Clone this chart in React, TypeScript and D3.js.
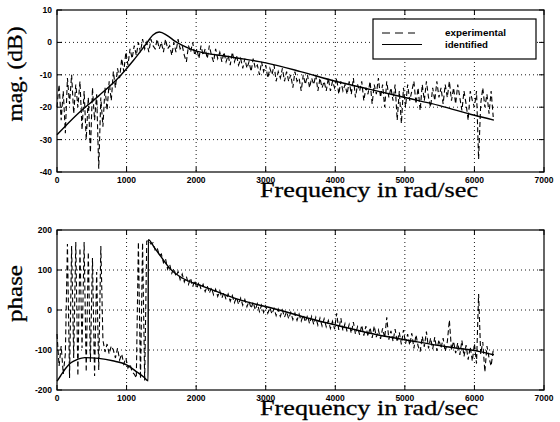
import React from "react";
import * as d3 from "d3";

// ---------------- data ----------------
const FREQ_STEP = 30; // experimental sampling grid, rad/sec

const magExp = [
  -20, -13, -24, -15, -28, -11, -19, -10, -22, -13,
  -20, -12, -27, -15, -30, -17, -34, -14, -24, -16,
  -39, -17, -26, -14, -21, -12, -18, -9, -14, -8,
  -11, -5, -9, -3, -7, -2, -5, -1, -4, 0,
  -3, 1, -2, 0, -3, 1, -1, -2, 1, -2,
  0, -3, 1, -2, -1, -4, 0, -3, 1, -2,
  -1, -4, -6, -1, -3, 0, -4, -2, -5, -1,
  -4, -2, -5, -1, -4, -6, -2, -5, -3, -6,
  -3, -6, -4, -7, -3, -6, -4, -7, -5, -8,
  -5, -8, -6, -9, -5, -8, -7, -10, -6, -9,
  -7, -11, -8, -10, -7, -12, -9, -11, -8, -12,
  -9, -12, -10, -14, -9, -12, -11, -15, -10, -13,
  -10, -14, -11, -13, -10, -15, -11, -14, -12, -15,
  -11, -15, -12, -14, -11, -16, -12, -15, -13, -16,
  -12, -16, -11, -17, -13, -15, -12, -18, -14, -16,
  -12, -19, -13, -16, -11, -17, -13, -20, -12, -17,
  -14, -18, -13, -24, -15, -25, -14, -20, -13, -18,
  -15, -12, -19, -14, -21, -13, -18, -12, -17, -20,
  -14, -18, -12, -17, -14, -19, -13, -17, -12, -18,
  -14, -19, -13, -17, -21, -15, -19, -24, -15, -18,
  -20, -15, -36, -19, -14, -20, -16, -22, -15, -23,
];

const phaseExp = [
  -60, -140, -90, -160, -110, 165, -170, 160, -120, 170,
  -165, 155, -95, 170, -155, 145, -130, 130, -165, 95,
  -150, 160, -75, -105, -85, -110, -90, -100, -120, -95,
  -125, -110, -135, -120, -145, -135, -155, -160, -170, 170,
  -172, 168, -176, 172, 174, 165, 168, 150, 156, 136,
  140, 118, 128, 102, 114, 92, 104, 84, 96, 76,
  90, 70, 84, 64, 80, 58, 74, 54, 70, 52,
  64, 46, 60, 42, 56, 38, 52, 34, 48, 30,
  44, 26, 40, 22, 36, 18, 32, 14, 30, 12,
  26, 8, 22, 4, 20, 0, 16, -4, 12, -6,
  10, -8, 6, -10, 4, -14, 2, -16, 0, -18,
  -4, -22, -6, -24, -8, -26, -10, -28, -12, -30,
  -14, -34, -16, -36, -18, -38, -20, -40, -22, -42,
  -26, -46, -28, -48, -8, -50, -20, -52, -34, -54,
  -36, -58, -30, -60, -42, -62, -38, -64, -40, -66,
  -44, -70, -40, -68, -50, -72, -46, -70, -18, -74,
  -52, -78, -48, -80, -56, -86, -50, -84, -60, -88,
  -58, -96, -62, -90, -104, -66, -92, -54, -96, -70,
  -98, -68, -102, -74, -96, -70, -104, -80, -25, -100,
  -78, -108, -82, -112, -76, -116, -88, -124, -92, -128,
  -84, -134, 40, -110, -80, -155, -90, -120, -140, -100,
];

const idMagFreq = [0, 300, 600, 900, 1100, 1280, 1380, 1470, 1580, 1700, 1950, 2500, 3000, 3500, 4000, 4500, 5000, 5500, 6000, 6280];
const idMagVal = [-28.5, -22, -16.5, -10.5, -5.5, -0.5, 2.3, 3.2, 2.2, 0.3, -2.3, -4.5, -6.3, -9, -12, -14.5, -17, -19.5, -22.5, -24];

const idPhaseFreq = [0, 50, 120, 200, 300, 400, 600, 800, 1000, 1150, 1250, 1310, 1312, 1400, 1500, 1620, 1800, 2050, 2300, 2530, 2800, 3150, 3600, 4160, 4600, 5120, 5600, 6077, 6280];
const idPhaseVal = [-178, -165, -147, -132, -123, -119, -121, -127, -137, -155, -168, -177, 176, 156, 132, 104, 80, 62, 46, 31, 17, 2, -20, -44, -62, -78, -92, -104, -112];

const xTicks = [0, 1000, 2000, 3000, 4000, 5000, 6000, 7000];
const magTicks = [-40, -30, -20, -10, 0, 10];
const phaseTicks = [-200, -100, 0, 100, 200];
const legendLabels = ["experimental", "identified"];
const xLabelText = "Frequency in rad/sec";
const magLabelText = "mag. (dB)";
const phaseLabelText = "phase";

// ---------------- layout ----------------
const X0 = 57;
const X1 = 544;
const TICK_FONT = "'Liberation Sans', Arial, sans-serif";
const SERIF = "'Liberation Serif', 'Times New Roman', serif";
const EXP_DASH = "5,3";

type PanelProps = {
  top: number;
  bottom: number;
  yDomain: [number, number];
  yTicks: number[];
  expVals: number[];
  idF: number[];
  idV: number[];
  yLabel: string;
  yLabelCenter: number;
  yLabelLen: number;
  showLegend: boolean;
};

function Panel(p: PanelProps) {
  const x = d3.scaleLinear().domain([0, 7000]).range([X0, X1]);
  const y = d3.scaleLinear().domain(p.yDomain).range([p.bottom, p.top]);
  const expLine = d3
    .line<number>()
    .x((_, i) => x(i * FREQ_STEP))
    .y((d) => y(d));
  const idLine = d3
    .line<number>()
    .x((_, i) => x(p.idF[i]))
    .y((d) => y(d))
    .curve(d3.curveMonotoneX);

  const innerX = xTicks.slice(1, -1);
  const innerY = p.yTicks.slice(1, -1);
  const TL = 5;

  return (
    <g>
      {innerX.map((t) => (
        <line key={"gx" + t} x1={x(t)} x2={x(t)} y1={p.top} y2={p.bottom}
          stroke="#000" strokeWidth={0.9} strokeDasharray="1,3" />
      ))}
      {innerY.map((t) => (
        <line key={"gy" + t} x1={X0} x2={X1} y1={y(t)} y2={y(t)}
          stroke="#000" strokeWidth={0.9} strokeDasharray="1,3" />
      ))}
      {xTicks.map((t) => (
        <g key={"tx" + t}>
          <line x1={x(t)} x2={x(t)} y1={p.bottom} y2={p.bottom - TL} stroke="#000" />
          <line x1={x(t)} x2={x(t)} y1={p.top} y2={p.top + TL} stroke="#000" />
        </g>
      ))}
      {p.yTicks.map((t) => (
        <g key={"ty" + t}>
          <line x1={X0} x2={X0 + TL} y1={y(t)} y2={y(t)} stroke="#000" />
          <line x1={X1} x2={X1 - TL} y1={y(t)} y2={y(t)} stroke="#000" />
        </g>
      ))}
      <path d={expLine(p.expVals) || ""} fill="none" stroke="#000" strokeWidth={1.1}
        strokeDasharray={EXP_DASH} />
      <path d={idLine(p.idV) || ""} fill="none" stroke="#000" strokeWidth={1.4} />
      <rect x={X0} y={p.top} width={X1 - X0} height={p.bottom - p.top}
        fill="none" stroke="#000" strokeWidth={1.2} />
      {xTicks.map((t) => (
        <text key={"lx" + t} x={x(t)} y={p.bottom + 11} textAnchor="middle"
          fontFamily={TICK_FONT} fontWeight="bold" fontSize={8.5}>{t}</text>
      ))}
      {p.yTicks.map((t) => (
        <text key={"ly" + t} x={52} y={y(t) + 3} textAnchor="end"
          fontFamily={TICK_FONT} fontWeight="bold" fontSize={8.5}>{t}</text>
      ))}
      <text x={260} y={p.bottom + 25} fontFamily={SERIF} fontSize={21}
        stroke="#000" strokeWidth={0.3}
        textLength={218} lengthAdjust="spacingAndGlyphs">{xLabelText}</text>
      <text transform={`translate(21.5,${p.yLabelCenter}) rotate(-90)`} textAnchor="middle"
        fontFamily={SERIF} fontSize={21} stroke="#000" strokeWidth={0.3}
        textLength={p.yLabelLen} lengthAdjust="spacingAndGlyphs">{p.yLabel}</text>
      {p.showLegend && (
        <g>
          <rect x={373} y={19} width={163} height={40} fill="#fff" stroke="#000" strokeWidth={1.2} />
          <line x1={382} x2={415} y1={33} y2={33} stroke="#000" strokeWidth={1} strokeDasharray="8,5" />
          <line x1={382} x2={422} y1={44.5} y2={44.5} stroke="#000" strokeWidth={1.2} />
          {legendLabels.map((l, i) => (
            <text key={l} x={445} y={36 + i * 11.5} fontFamily={TICK_FONT} fontWeight="bold"
              fontSize={9.5} textLength={i === 0 ? 61 : 43} lengthAdjust="spacingAndGlyphs">{l}</text>
          ))}
        </g>
      )}
    </g>
  );
}

export default function App() {
  return (
    <svg width={560} height={422} style={{ position: "absolute", left: 0, top: 0, background: "#fff" }}>
      <rect x={0} y={0} width={560} height={422} fill="#fff" />
      <Panel top={10} bottom={172} yDomain={[-40, 10]} yTicks={magTicks}
        expVals={magExp} idF={idMagFreq} idV={idMagVal}
        yLabel={magLabelText} yLabelCenter={74} yLabelLen={95} showLegend={true} />
      <Panel top={230} bottom={390} yDomain={[-200, 200]} yTicks={phaseTicks}
        expVals={phaseExp} idF={idPhaseFreq} idV={idPhaseVal}
        yLabel={phaseLabelText} yLabelCenter={293.5} yLabelLen={57} showLegend={false} />
    </svg>
  );
}
